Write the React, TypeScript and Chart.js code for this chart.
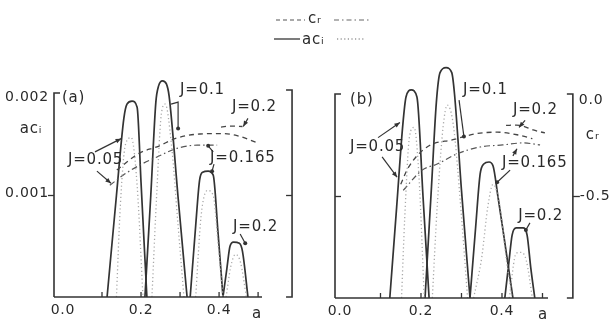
import { useEffect, useRef } from "react";
import { Chart, registerables } from "chart.js";

Chart.register(...registerables);

// ---------------- Panel (a) : a*c_i, solid ----------------
const A_J005_a = [0.113, 0.137, 0.156, 0.164, 0.177, 0.19, 0.2, 0.215];
const A_J005_ac = [0, 0.001, 0.00176, 0.0019, 0.00193, 0.00187, 0.00113, 0];
const A_J01_a = [0.21, 0.225, 0.238, 0.245, 0.255, 0.265, 0.272, 0.295, 0.318];
const A_J01_ac = [0, 0.001, 0.00192, 0.00208, 0.00213, 0.0021, 0.00198, 0.00098, 0];
const A_J0165_a = [0.326, 0.34, 0.35, 0.358, 0.372, 0.385, 0.397, 0.41];
const A_J0165_ac = [0, 0.0007, 0.00115, 0.00123, 0.00124, 0.0012, 0.00065, 0];
const A_J02_a = [0.41, 0.42, 0.428, 0.437, 0.452, 0.46, 0.474];
const A_J02_ac = [0, 0.00028, 0.0005, 0.00054, 0.00053, 0.00045, 0];

// Panel (a) : a*c_i, dotted
const A_D005_a = [0.137, 0.147, 0.16, 0.175, 0.19, 0.205];
const A_D005_ac = [0, 0.0009, 0.0015, 0.00157, 0.0011, 0];
const A_D01_a = [0.228, 0.24, 0.252, 0.262, 0.278, 0.295, 0.31];
const A_D01_ac = [0, 0.001, 0.0018, 0.0019, 0.0015, 0.0007, 0];
const A_D0165_a = [0.34, 0.354, 0.37, 0.385, 0.398, 0.41];
const A_D0165_ac = [0, 0.0008, 0.00105, 0.001, 0.0005, 0];
const A_D02_a = [0.418, 0.43, 0.442, 0.455, 0.47];
const A_D02_ac = [0, 0.0003, 0.00042, 0.00034, 0];

// Panel (a) : c_r
const A_CR1_a = [0.138, 0.197, 0.241, 0.292, 0.351, 0.41, 0.446, 0.497];
const A_CR1_c = [-0.374, -0.29, -0.26, -0.217, -0.197, -0.195, -0.205, -0.24];
const A_CR2_a = [0.12, 0.154, 0.197, 0.241, 0.292, 0.344, 0.395];
const A_CR2_c = [-0.45, -0.4, -0.35, -0.31, -0.268, -0.252, -0.252];
const A_CR02_a = [0.405, 0.43, 0.46];
const A_CR02_c = [-0.163, -0.158, -0.16];

// ---------------- Panel (b) : a*c_i, solid ----------------
const B_J005_a = [0.123, 0.14, 0.155, 0.163, 0.176, 0.19, 0.205, 0.22];
const B_J005_ac = [0, 0.0009, 0.0017, 0.00198, 0.00205, 0.00198, 0.001, 0];
const B_J01_a = [0.21, 0.226, 0.238, 0.247, 0.262, 0.276, 0.283, 0.3, 0.321];
const B_J01_ac = [0, 0.0011, 0.00193, 0.00222, 0.00227, 0.00222, 0.002, 0.00106, 0];
const B_J0165_a = [0.321, 0.335, 0.346, 0.355, 0.368, 0.378, 0.39, 0.402, 0.427];
const B_J0165_ac = [0, 0.0007, 0.00122, 0.00132, 0.00134, 0.0013, 0.001, 0.00068, 0];
const B_J02_a = [0.407, 0.417, 0.425, 0.435, 0.452, 0.462, 0.471, 0.481];
const B_J02_ac = [0, 0.00035, 0.00062, 0.00069, 0.00069, 0.00062, 0.0003, 0];

// Panel (b) : a*c_i, dotted
const B_D005_a = [0.152, 0.16, 0.172, 0.183, 0.195, 0.208];
const B_D005_ac = [0, 0.0008, 0.0016, 0.00168, 0.0012, 0];
const B_D01_a = [0.228, 0.24, 0.255, 0.265, 0.28, 0.3, 0.315];
const B_D01_ac = [0, 0.0009, 0.0017, 0.0019, 0.0017, 0.0008, 0];
const B_D0165_a = [0.33, 0.35, 0.365, 0.378, 0.395, 0.41, 0.425];
const B_D0165_ac = [0, 0.0004, 0.0009, 0.00112, 0.0009, 0.0004, 0];
const B_D02_a = [0.418, 0.435, 0.448, 0.46, 0.475];
const B_D02_ac = [0, 0.00044, 0.00045, 0.00037, 0];

// Panel (b) : c_r
const B_CR1_a = [0.15, 0.168, 0.215, 0.279, 0.338, 0.388, 0.44, 0.475];
const B_CR1_c = [-0.44, -0.36, -0.256, -0.22, -0.19, -0.183, -0.197, -0.215];
const B_CR2_a = [0.156, 0.203, 0.24, 0.289, 0.346, 0.402, 0.452, 0.494];
const B_CR2_c = [-0.47, -0.37, -0.34, -0.29, -0.256, -0.246, -0.236, -0.246];
const B_CR02_a = [0.41, 0.435, 0.45, 0.477, 0.506];
const B_CR02_c = [-0.15, -0.148, -0.152, -0.172, -0.187];

// ---------------- ticks / labels ----------------
const X_TICKS = [0, 0.2, 0.4];
const X_TICK_LABELS = ["0.0", "0.2", "0.4"];
const X_MINOR = [0.1, 0.2, 0.3, 0.4, 0.5];
const AC_TICKS = [0.002, 0.001];
const AC_TICK_LABELS = ["0.002", "0.001"];
const CR_TICKS = [0, -0.5];
const CR_TICK_LABELS = ["0.0", "-0.5"];

const INK = "#333333";
const FONT = "'DejaVu Sans', 'Liberation Sans', sans-serif";

type Pt = { x: number; y: number };
const pts = (xs: number[], ys: number[]): Pt[] => xs.map((x, i) => ({ x, y: ys[i] }));

type Ann = { text: string; a: number; v: number };
type Ptr = { path: [number, number][]; head: "arrow" | "dot" | "none" };

type Panel = {
  solid: [number[], number[]][];
  dotted: [number[], number[]][];
  dashed: [number[], number[]][];
  dashdot: [number[], number[]][];
  xMin: number;
  xMax: number;
  pad: { left: number; right: number; top: number; bottom: number };
  bracketA: number;
  leftLabels: boolean;
  rightLabels: boolean;
  leftTickOut: boolean;
  rightTickOut: boolean;
  anns: Ann[];
  ptrs: Ptr[];
  legend: boolean;
};

const PANEL_A: Panel = {
  solid: [
    [A_J005_a, A_J005_ac],
    [A_J01_a, A_J01_ac],
    [A_J0165_a, A_J0165_ac],
    [A_J02_a, A_J02_ac],
  ],
  dotted: [
    [A_D005_a, A_D005_ac],
    [A_D01_a, A_D01_ac],
    [A_D0165_a, A_D0165_ac],
    [A_D02_a, A_D02_ac],
  ],
  dashed: [
    [A_CR1_a, A_CR1_c],
    [A_CR02_a, A_CR02_c],
  ],
  dashdot: [[A_CR2_a, A_CR2_c]],
  xMin: -0.023,
  xMax: 0.51,
  pad: { left: 54, right: 352, top: 94, bottom: 23 },
  bracketA: 0.587,
  leftLabels: true,
  rightLabels: false,
  leftTickOut: true,
  rightTickOut: false,
  anns: [
    { text: "(a)", a: -0.0026, v: 0.00196 },
    { text: "J=0.1", a: 0.3, v: 0.00204 },
    { text: "J=0.2", a: 0.433, v: 0.00187 },
    { text: "J=0.165", a: 0.377, v: 0.00137 },
    { text: "J=0.05", a: 0.0128, v: 0.00135 },
    { text: "J=0.2", a: 0.436, v: 0.00069 },
  ],
  ptrs: [
    { path: [[0.277, 0.0019], [0.295, 0.00192], [0.295, 0.00166]], head: "dot" },
    { path: [[0.474, 0.00176], [0.462, 0.00168]], head: "arrow" },
    { path: [[0.385, 0.00143], [0.372, 0.00149]], head: "dot" },
    { path: [[0.387, 0.00131], [0.382, 0.00124]], head: "dot" },
    { path: [[0.082, 0.00143], [0.149, 0.00156]], head: "arrow" },
    { path: [[0.087, 0.00124], [0.123, 0.00112]], head: "arrow" },
    { path: [[0.454, 0.00062], [0.467, 0.00053]], head: "dot" },
  ],
  legend: true,
};

const PANEL_B: Panel = {
  solid: [
    [B_J005_a, B_J005_ac],
    [B_J01_a, B_J01_ac],
    [B_J0165_a, B_J0165_ac],
    [B_J02_a, B_J02_ac],
  ],
  dotted: [
    [B_D005_a, B_D005_ac],
    [B_D01_a, B_D01_ac],
    [B_D0165_a, B_D0165_ac],
    [B_D02_a, B_D02_ac],
  ],
  dashed: [
    [B_CR1_a, B_CR1_c],
    [B_CR02_a, B_CR02_c],
  ],
  dashdot: [[B_CR2_a, B_CR2_c]],
  xMin: -0.0123,
  xMax: 0.5136,
  pad: { left: 335, right: 66, top: 95, bottom: 22 },
  bracketA: 0.575,
  leftLabels: false,
  rightLabels: true,
  leftTickOut: false,
  rightTickOut: true,
  anns: [
    { text: "(b)", a: 0.0247, v: 0.00195 },
    { text: "J=0.1", a: 0.304, v: 0.00205 },
    { text: "J=0.2", a: 0.427, v: 0.00185 },
    { text: "J=0.05", a: 0.0247, v: 0.00149 },
    { text: "J=0.165", a: 0.4, v: 0.00133 },
    { text: "J=0.2", a: 0.44, v: 0.00081 },
  ],
  ptrs: [
    { path: [[0.294, 0.00195], [0.306, 0.00159]], head: "dot" },
    { path: [[0.457, 0.00175], [0.442, 0.00168]], head: "arrow" },
    { path: [[0.094, 0.00158], [0.148, 0.00173]], head: "arrow" },
    { path: [[0.104, 0.00139], [0.141, 0.00119]], head: "arrow" },
    { path: [[0.427, 0.0014], [0.437, 0.00147]], head: "arrow" },
    { path: [[0.42, 0.00126], [0.388, 0.00114]], head: "dot" },
    { path: [[0.469, 0.00074], [0.459, 0.00067]], head: "dot" },
  ],
  legend: false,
};

function seg(ctx: CanvasRenderingContext2D, p: number[][], dash: number[] = [], w = 1.4, color = INK) {
  ctx.save();
  ctx.strokeStyle = color;
  ctx.lineWidth = w;
  ctx.setLineDash(dash);
  ctx.beginPath();
  p.forEach(([x, y], i) => (i ? ctx.lineTo(x, y) : ctx.moveTo(x, y)));
  ctx.stroke();
  ctx.restore();
}

function text(ctx: CanvasRenderingContext2D, s: string, x: number, y: number, size: number, align: CanvasTextAlign = "left") {
  ctx.save();
  ctx.fillStyle = "#2a2a2a";
  ctx.font = `${size}px ${FONT}`;
  (ctx as any).letterSpacing = "0.8px";
  ctx.textAlign = align;
  ctx.textBaseline = "middle";
  ctx.fillText(s, x, y);
  ctx.restore();
}

function framePlugin(p: Panel) {
  return {
    id: "frame",
    afterDatasetsDraw(chart: any) {
      const ctx: CanvasRenderingContext2D = chart.ctx;
      const xs = chart.scales.x;
      const ys = chart.scales.y;
      const cs = chart.scales.cr;
      const px = (a: number) => xs.getPixelForValue(a);
      const py = (v: number) => ys.getPixelForValue(v);
      const pc = (c: number) => cs.getPixelForValue(c);
      const x0 = px(p.xMin);
      const x1 = px(p.xMax);
      const y0 = py(0);
      const yTop = py(0.002);
      const xr = px(p.bracketA);

      // left bracket
      seg(ctx, [[x0 + 6, yTop - 1], [x0, yTop - 1], [x0, y0]], [], 1.6);
      // x axis
      seg(ctx, [[x0, y0], [x1, y0]], [], 1.6);
      X_MINOR.forEach((a) => seg(ctx, [[px(a), y0], [px(a), y0 - 5]], [], 1.3));
      // left tick at 0.001
      const yt = py(0.001);
      seg(ctx, p.leftTickOut ? [[x0, yt], [x0 - 6, yt]] : [[x0, yt], [x0 + 6, yt]], [], 1.3);
      // right bracket
      const yrTop = pc(0) - (p.legend ? 4 : 1);
      seg(ctx, [[xr - 6, yrTop], [xr, yrTop], [xr, y0], [xr - 6, y0]], [], 1.6);
      const yh = pc(-0.5);
      seg(ctx, p.rightTickOut ? [[xr, yh], [xr + 7, yh]] : [[xr, yh], [xr - 6, yh]], [], 1.3);

      // x tick labels and title
      X_TICKS.forEach((a, i) => text(ctx, X_TICK_LABELS[i], px(a), y0 + 13, 14, "center"));
      text(ctx, "a", px(p.xMax) - 5, y0 + 17, 15, "center");

      if (p.leftLabels) {
        AC_TICKS.forEach((v, i) => text(ctx, AC_TICK_LABELS[i], x0 - 5, py(v) + (i === 0 ? 3 : -2), 14, "right"));
        text(ctx, "acᵢ", x0 - 23, py(0.00165), 15, "center");
      }
      if (p.rightLabels) {
        text(ctx, CR_TICK_LABELS[0], xr + 6, pc(CR_TICKS[0]) + 5, 14, "left");
        text(ctx, "cᵣ", xr + 13, pc(-0.2), 15, "left");
        text(ctx, CR_TICK_LABELS[1], xr + 7, pc(CR_TICKS[1]), 14, "left");
      }

      // annotations
      p.anns.forEach((an) => text(ctx, an.text, px(an.a), py(an.v), 15, "left"));
      p.ptrs.forEach((pt) => {
        const path = pt.path.map(([a, v]) => [px(a), py(v)]);
        seg(ctx, path, [], 1.2);
        const [ex, ey] = path[path.length - 1];
        const [sx, sy] = path[path.length - 2];
        ctx.save();
        ctx.fillStyle = INK;
        if (pt.head === "dot") {
          ctx.beginPath();
          ctx.arc(ex, ey, 2, 0, Math.PI * 2);
          ctx.fill();
        } else if (pt.head === "arrow") {
          const ang = Math.atan2(ey - sy, ex - sx);
          ctx.beginPath();
          ctx.moveTo(ex, ey);
          ctx.lineTo(ex - 6 * Math.cos(ang - 0.4), ey - 6 * Math.sin(ang - 0.4));
          ctx.lineTo(ex - 6 * Math.cos(ang + 0.4), ey - 6 * Math.sin(ang + 0.4));
          ctx.closePath();
          ctx.fill();
        }
        ctx.restore();
      });

      if (p.legend) {
        const r1 = 20;
        const r2 = 39;
        seg(ctx, [[276, r1], [305, r1]], [4, 3], 1.2, "#555");
        text(ctx, "cᵣ", 308, r1 - 1, 15, "left");
        seg(ctx, [[334, r1], [369, r1]], [5, 3, 1.5, 3], 1.2, "#666");
        seg(ctx, [[274, r2], [300, r2]], [], 1.4, "#444");
        text(ctx, "acᵢ", 302, r2 + 1, 15, "left");
        seg(ctx, [[337, r2], [364, r2]], [1.2, 2.4], 1.3, "#999");
      }
    },
  };
}

function buildDatasets(p: Panel) {
  const ds: any[] = [];
  p.dotted.forEach(([a, v]) =>
    ds.push({ data: pts(a, v), yAxisID: "y", borderColor: "#a8a8a8", borderWidth: 1.3, borderDash: [1.2, 2.6] })
  );
  p.dashed.forEach(([a, c]) =>
    ds.push({ data: pts(a, c), yAxisID: "cr", borderColor: "#454545", borderWidth: 1.3, borderDash: [5, 4] })
  );
  p.dashdot.forEach(([a, c]) =>
    ds.push({ data: pts(a, c), yAxisID: "cr", borderColor: "#555", borderWidth: 1.2, borderDash: [6, 3, 1.5, 3] })
  );
  p.solid.forEach(([a, v]) =>
    ds.push({ data: pts(a, v), yAxisID: "y", borderColor: INK, borderWidth: 1.7, borderDash: [] })
  );
  return ds.map((d) => ({
    ...d,
    xAxisID: "x",
    pointRadius: 0,
    fill: false,
    clip: false,
    cubicInterpolationMode: "monotone",
  }));
}

function PanelChart({ panel }: { panel: Panel }) {
  const ref = useRef<HTMLCanvasElement>(null);
  useEffect(() => {
    if (!ref.current) return;
    const chart = new Chart(ref.current, {
      type: "line",
      data: { datasets: buildDatasets(panel) },
      options: {
        responsive: false,
        animation: false,
        devicePixelRatio: 1,
        events: [],
        layout: { padding: panel.pad },
        plugins: { legend: { display: false }, tooltip: { enabled: false } },
        scales: {
          x: { type: "linear", min: panel.xMin, max: panel.xMax, display: false },
          y: { type: "linear", min: 0, max: 0.002, display: false },
          cr: { type: "linear", min: -1, max: 0, display: false },
        },
      } as any,
      plugins: [framePlugin(panel)],
    });
    return () => chart.destroy();
  }, [panel]);
  return (
    <canvas
      ref={ref}
      width={614}
      height={320}
      style={{ position: "absolute", left: 0, top: 0, width: 614, height: 320 }}
    />
  );
}

export default function App() {
  return (
    <div style={{ position: "fixed", left: 0, top: 0, width: 614, height: 320, background: "#fff", overflow: "hidden" }}>
      <PanelChart panel={PANEL_A} />
      <PanelChart panel={PANEL_B} />
    </div>
  );
}
